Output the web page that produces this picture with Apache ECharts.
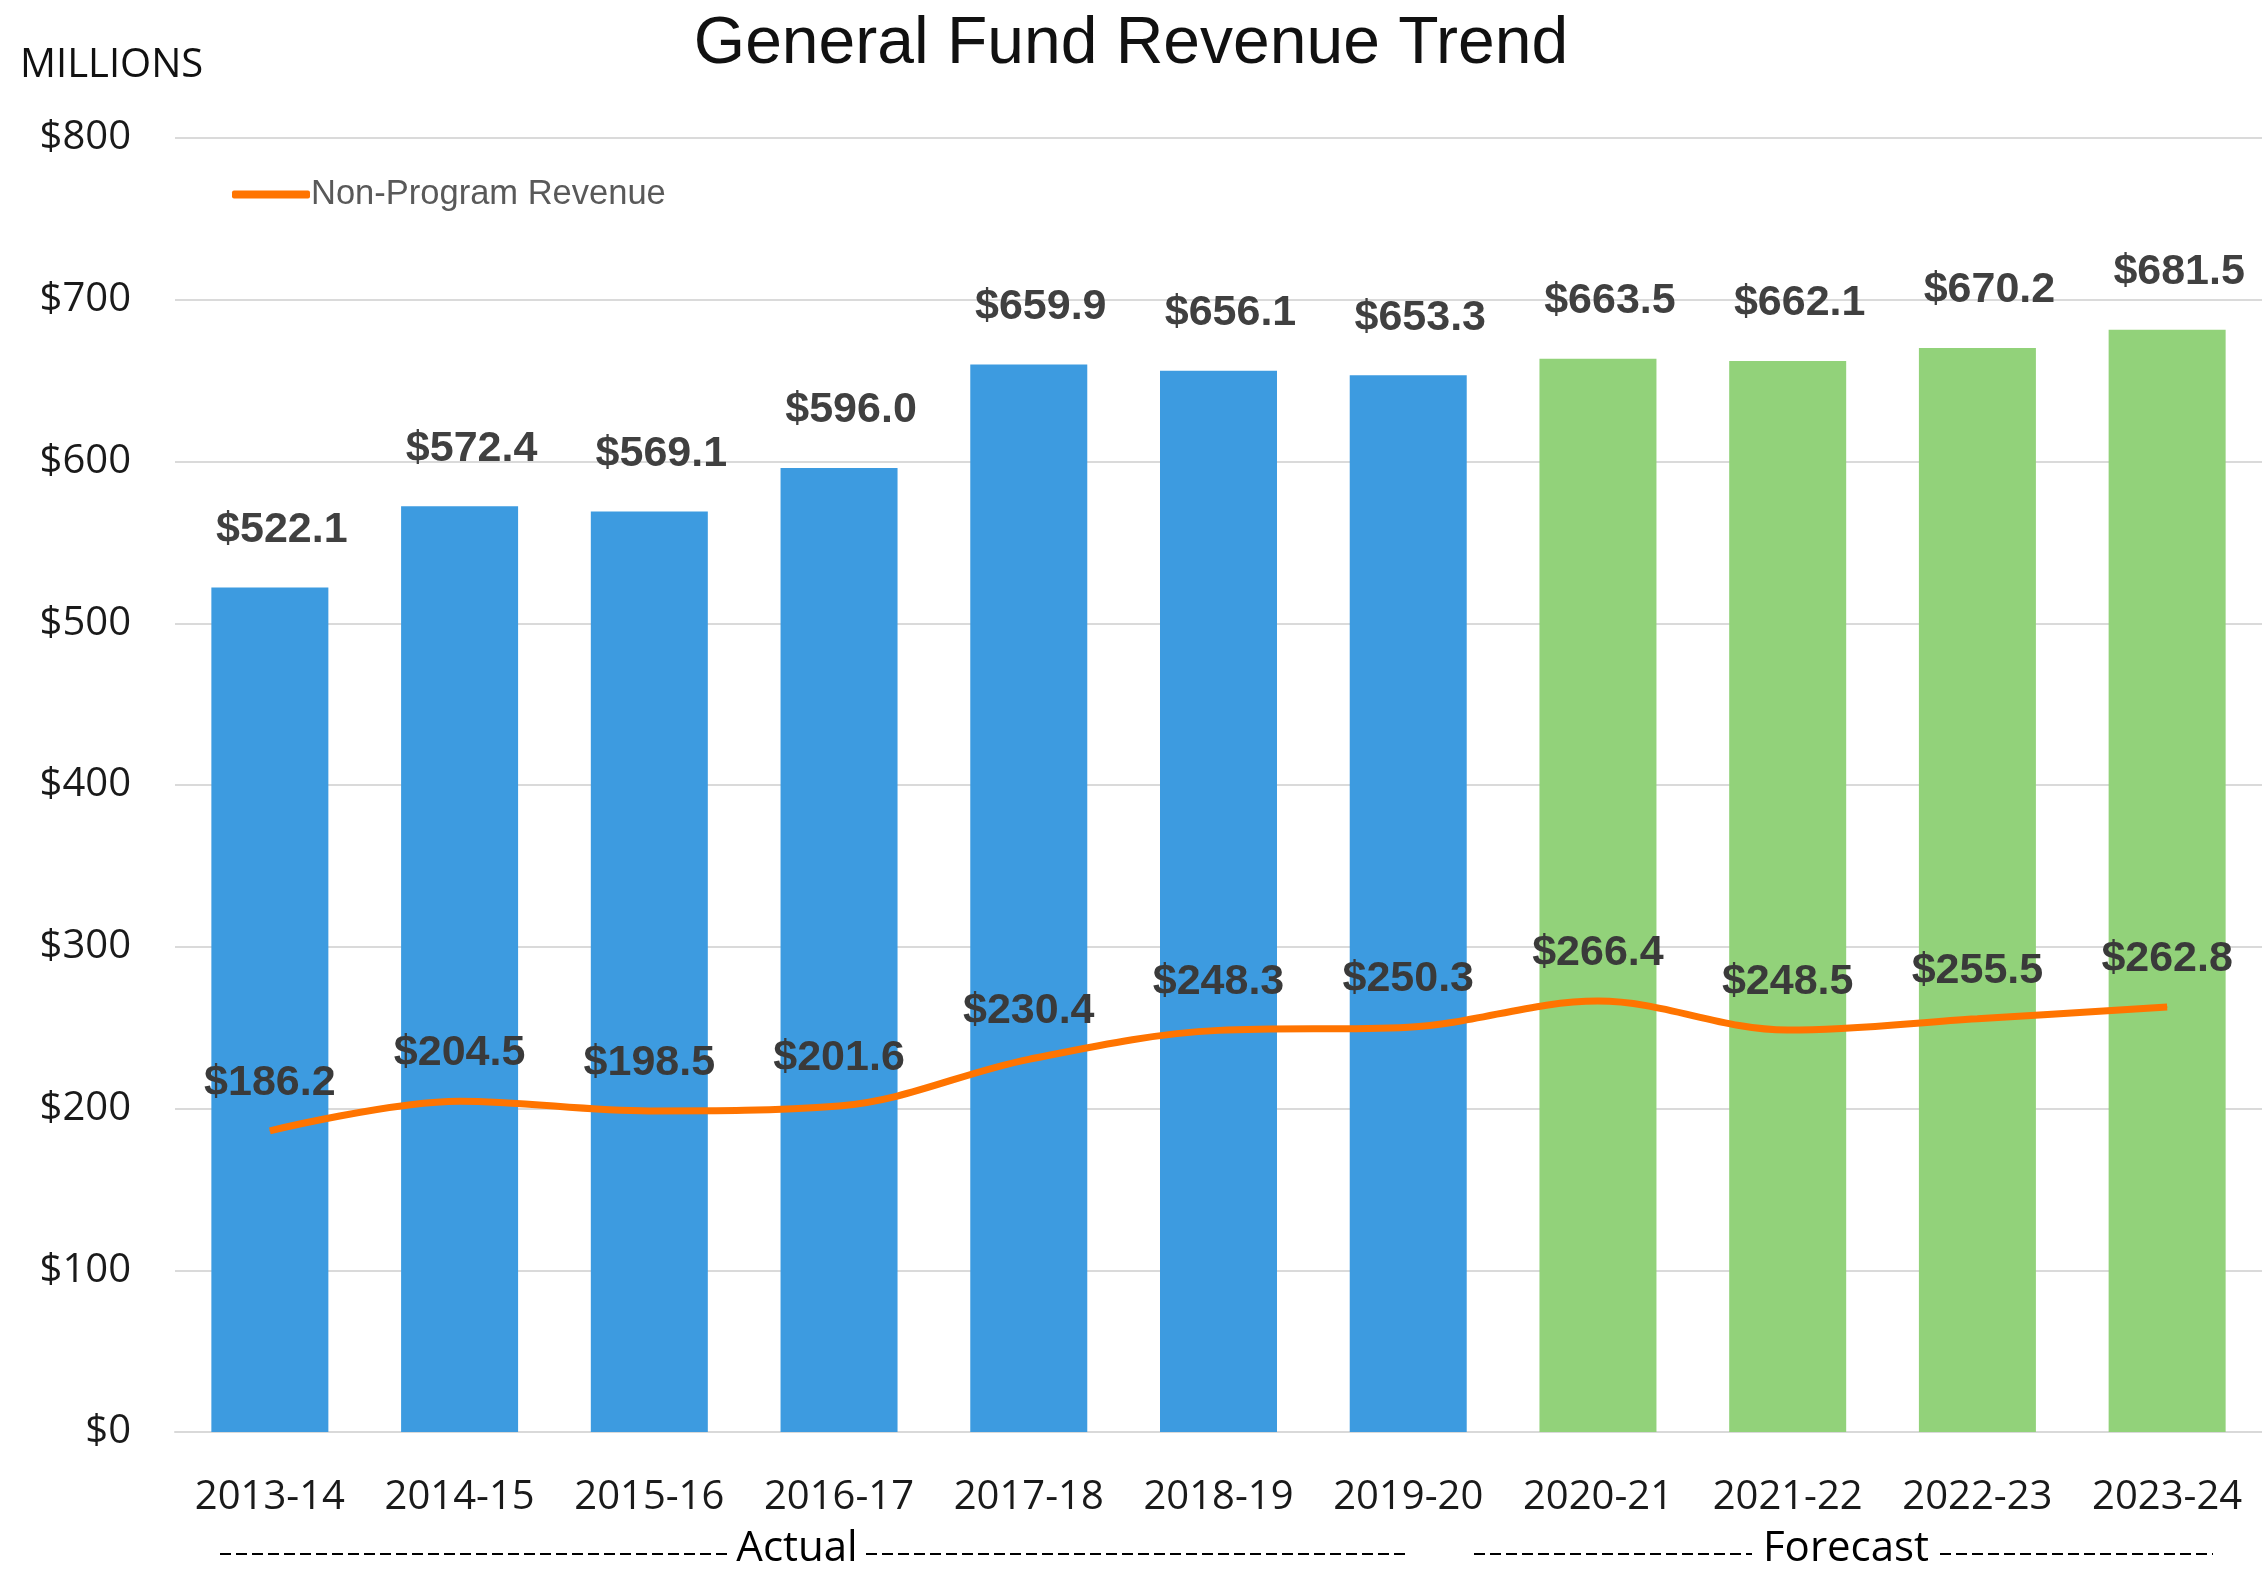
<!DOCTYPE html>
<html>
<head>
<meta charset="utf-8">
<title>General Fund Revenue Trend</title>
<script src="https://cdn.jsdelivr.net/npm/echarts@6/dist/echarts.min.js"></script>
<style>
	html, body { margin: 0; padding: 0; background: #ffffff; }
	#chart { width: 2262px; height: 1572px; }
</style>
</head>
<body>
<div id="chart"></div>
<script>
// Chart data:
var years = ["2013-14", "2014-15", "2015-16", "2016-17", "2017-18", "2018-19",
			"2019-20", "2020-21", "2021-22", "2022-23", "2023-24"];
var totalRevenue = [522.1, 572.4, 569.1, 596.0, 659.9, 656.1, 653.3, 663.5, 662.1, 670.2, 681.5];
var nonProgramRevenue = [186.2, 204.5, 198.5, 201.6, 230.4, 248.3, 250.3, 266.4, 248.5, 255.5, 262.8];
var actualCount = 7;				// First 7 years are actuals, the rest forecast
var yTicks = [0, 100, 200, 300, 400, 500, 600, 700, 800];

// Colours:
var actualColor = "#3d9be0";
var forecastColor = "#92d27a";
var lineColor = "#ff7400";
var labelFont = "'Open Sans', 'Noto Sans', sans-serif";
var valueFont = "'Liberation Sans', Arial, sans-serif";

function money(v) {
	return "$" + v.toFixed(1);
}

// Bars coloured by actual / forecast:
var barData = totalRevenue.map(function (v, i) {
	return {
		value: v,
		itemStyle: { color: (i < actualCount) ? actualColor : forecastColor }
	};
});

// Dashed "Actual" / "Forecast" brackets under the axis:
function bracket(x1, x2, textLeft, textRight, word) {
	var y = 1554;
	var dash = { stroke: "#000", lineWidth: 2, lineDash: [11, 5] };
	return [
		{ type: "line", shape: { x1: x1, y1: y, x2: textLeft, y2: y }, style: dash, silent: true },
		{ type: "line", shape: { x1: textRight, y1: y, x2: x2, y2: y }, style: dash, silent: true },
		{
			type: "text",
			x: (textLeft + textRight) / 2,
			y: 1549,
			style: {
				text: word,
				fill: "#000",
				font: "42px " + labelFont,
				align: "center",
				verticalAlign: "middle"
			}
		}
	];
}

var chart = echarts.init(document.getElementById("chart"));

var option = {
	backgroundColor: "#ffffff",
	animation: false,
	title: {
		text: "General Fund Revenue Trend",
		left: "center",
		top: 12,
		padding: 0,
		textStyle: {
			fontFamily: valueFont,
			fontSize: 66,
			fontWeight: "normal",
			color: "#111"
		}
	},
	legend: {
		data: ["Non-Program Revenue"],
		left: 227,
		top: 172,
		icon: "roundRect",
		itemWidth: 78,
		itemHeight: 8,
		itemGap: 4,
		textStyle: {
			fontFamily: valueFont,
			fontSize: 34.5,
			color: "#595959",
			padding: [0, 0, 0, -4]
		}
	},
	grid: {
		left: 175,
		right: 0,
		top: 138,
		bottom: 140,
		containLabel: false
	},
	xAxis: {
		type: "category",
		data: years,
		axisTick: { show: false },
		axisLine: { show: true, lineStyle: { color: "#d9d9d9", width: 2 } },
		axisLabel: {
			interval: 0,
			margin: 46,
			fontFamily: labelFont,
			fontSize: 40,
			color: "#1a1a1a"
		}
	},
	yAxis: {
		type: "value",
		min: yTicks[0],
		max: yTicks[yTicks.length - 1],
		interval: 100,
		axisLine: { show: false },
		axisTick: { show: false },
		splitLine: { lineStyle: { color: "#dadada", width: 2 } },
		axisLabel: {
			margin: 44,
			fontFamily: labelFont,
			fontSize: 40,
			color: "#1a1a1a",
			formatter: function (v) { return "$" + v; }
		}
	},
	graphic: [
		{
			type: "text",
			left: 20,
			top: 46,
			style: {
				text: "MILLIONS",
				fill: "#111",
				font: "40px " + labelFont
			}
		}
	].concat(bracket(220, 1405, 728, 866, "Actual"))
	 .concat(bracket(1474, 2213, 1752, 1940, "Forecast")),
	series: [
		{
			name: "General Fund Revenue",
			type: "bar",
			data: barData,
			barWidth: 117,
			label: {
				show: true,
				position: "top",
				distance: 36,
				offset: [12, 0],
				fontFamily: valueFont,
				fontSize: 43,
				fontWeight: "bold",
				color: "#404040",
				formatter: function (p) { return money(p.value); }
			}
		},
		{
			name: "Non-Program Revenue",
			type: "line",
			data: nonProgramRevenue,
			smooth: 0.35,
			symbol: "circle",
			symbolSize: 1,
			showSymbol: true,
			lineStyle: { color: lineColor, width: 7 },
			itemStyle: { color: lineColor },
			label: {
				show: true,
				position: "top",
				distance: 26,
				fontFamily: valueFont,
				fontSize: 43,
				fontWeight: "bold",
				color: "#3a3a3a",
				formatter: function (p) { return money(p.value); }
			},
			labelLayout: { hideOverlap: false },
			z: 3
		}
	]
};

chart.setOption(option);
</script>
</body>
</html>
